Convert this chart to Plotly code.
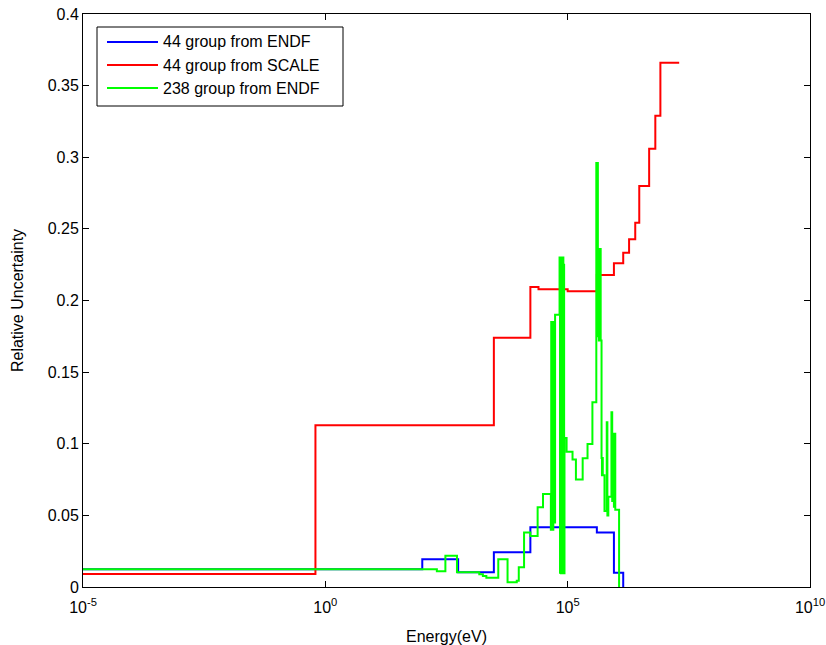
import plotly.graph_objects as go

# ---- data: group boundaries (eV) and relative uncertainty per group ----
blue_edges = [1e-5, 100, 550, 3000, 17000, 400000, 900000, 1.4e6]
blue_vals = [0.0124, 0.0193, 0.0103, 0.0242, 0.0417, 0.038, 0.010]

red_edges = [1e-5, 0.625, 3000, 17000, 25000, 100000, 400000, 900000, 1.4e6,
             1.85e6, 2.479e6, 3e6, 4.8e6, 6.434e6, 8.187e6, 2e7]
red_vals = [0.0091, 0.113, 0.174, 0.2094, 0.2078, 0.2064, 0.2178, 0.226,
            0.2334, 0.2427, 0.2543, 0.280, 0.306, 0.329, 0.366]

green_edges = [1e-5, 200, 300, 520, 1500, 1780, 2100, 3700, 5750, 8900, 9800,
               12600, 17000, 24000, 31000, 45000,
               45800, 46600, 47400, 48200, 49000, 49800, 50600, 51400, 52200,
               53000, 55000,
               68000, 69500, 71000, 72500, 74000, 75500, 77000, 78500, 80000,
               81500, 83000, 84500, 86000,
               95000, 126000, 148000, 204000, 257000, 324000, 390000,
               400000, 410000, 420000, 430000, 440000, 450000, 460000, 470000,
               480000, 500000, 510000, 520000, 530000, 575000, 640000, 660000,
               690000, 800000, 830000, 860000, 900000, 930000, 960000, 1.15e6]
green_vals = [0.0124, 0.011, 0.0219, 0.0103, 0.0089, 0.0077, 0.0065, 0.0193,
              0.0033, 0.0044, 0.0138, 0.038, 0.0356, 0.0556, 0.065,
              0.04, 0.185, 0.042, 0.18, 0.045, 0.185, 0.04, 0.182, 0.05, 0.185,
              0.045,
              0.19,
              0.23, 0.01, 0.225, 0.0096, 0.23, 0.01, 0.228, 0.0096, 0.23,
              0.01, 0.225, 0.0096,
              0.104, 0.0945, 0.089, 0.075, 0.0898, 0.0998, 0.129,
              0.296, 0.18, 0.296, 0.175, 0.236, 0.172, 0.236, 0.172, 0.236,
              0.172, 0.09, 0.078, 0.09, 0.078, 0.053, 0.115, 0.05,
              0.063, 0.122, 0.06, 0.107, 0.056, 0.107, 0.054]

x_tickvals = [1e-5, 1, 1e5, 1e10]
x_ticktext = ["10<sup>-5</sup>", "10<sup>0</sup>", "10<sup>5</sup>", "10<sup>10</sup>"]
y_tickvals = [0, 0.05, 0.1, 0.15, 0.2, 0.25, 0.3, 0.35, 0.4]
y_ticktext = ["0", "0.05", "0.1", "0.15", "0.2", "0.25", "0.3", "0.35", "0.4"]

# (name, edges, values, colour, drops to zero at its last edge)
series = [
    ("44 group from ENDF", blue_edges, blue_vals, "#0000FF", True),
    ("44 group from SCALE", red_edges, red_vals, "#FF0000", False),
    ("238 group from ENDF", green_edges, green_vals, "#00FF00", True),
]

FONT = "Liberation Sans, Arial, Helvetica, sans-serif"
axis_font = dict(family=FONT, size=16, color="#000000")

# plot-area geometry in pixels (for the hand-drawn legend box)
W, H = 826, 645
L, R, T, B = 83, 16, 14, 58
PW, PH = W - L - R, H - T - B


def px_x(px):
    return (px - L) / PW


def px_y(py):
    return 1 - (py - T) / PH


fig = go.Figure()
for name, edges, vals, color, drop in series:
    xs = list(edges)
    ys = list(vals) + [vals[-1]]
    if drop:
        xs = xs + [edges[-1]]
        ys = ys + [0.0]
    fig.add_trace(go.Scatter(
        x=xs, y=ys, mode="lines",
        line=dict(shape="hv", color=color, width=2),
        name=name, showlegend=False,
    ))

# legend drawn as box + line samples + text
shapes = [dict(type="rect", xref="paper", yref="paper",
               x0=px_x(97), x1=px_x(343), y0=px_y(106), y1=px_y(27),
               line=dict(color="black", width=1), fillcolor="white", layer="above")]
annotations = []
row_y = [42, 65, 88]
for (name, _, _, color, _), ry in zip(series, row_y):
    shapes.append(dict(type="line", xref="paper", yref="paper",
                       x0=px_x(107), x1=px_x(158), y0=px_y(ry), y1=px_y(ry),
                       line=dict(color=color, width=2), layer="above"))
    annotations.append(dict(xref="paper", yref="paper", x=px_x(161), y=px_y(ry),
                            xanchor="left", yanchor="middle", showarrow=False,
                            text=name, font=dict(family=FONT, size=16, color="#000000")))

fig.update_layout(
    width=W, height=H,
    margin=dict(l=L, r=R, t=T, b=B),
    paper_bgcolor="white", plot_bgcolor="white",
    font=axis_font,
    showlegend=False,
    shapes=shapes,
    annotations=annotations,
    xaxis=dict(
        type="log", range=[-5, 10], tickvals=x_tickvals, ticktext=x_ticktext,
        showgrid=False, zeroline=False, automargin=False,
        showline=True, linecolor="black", linewidth=1, mirror="ticks",
        ticks="inside", ticklen=6, tickcolor="black", ticklabelstandoff=6,
        title=dict(text="Energy(eV)", font=axis_font, standoff=18),
        tickfont=axis_font,
    ),
    yaxis=dict(
        range=[0, 0.4], tickvals=y_tickvals, ticktext=y_ticktext,
        showgrid=False, zeroline=False, automargin=False,
        showline=True, linecolor="black", linewidth=1, mirror="ticks",
        ticks="inside", ticklen=6, tickcolor="black",
        title=dict(text="Relative Uncertainty", font=axis_font, standoff=20),
        tickfont=axis_font,
    ),
)

fig.write_html("out.html")
